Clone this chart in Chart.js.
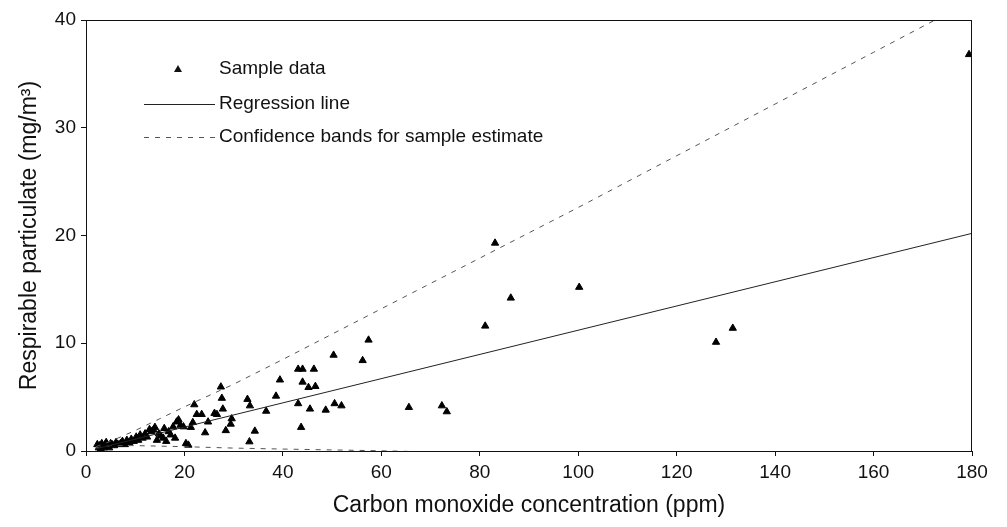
<!DOCTYPE html>
<html>
<head>
<meta charset="utf-8">
<title>Respirable particulate vs carbon monoxide</title>
<script src="https://cdn.jsdelivr.net/npm/chart.js@4.4.1/dist/chart.umd.min.js"></script>
<style>
  html, body { margin: 0; padding: 0; background: #fff; }
  #wrap { position: relative; width: 1007px; height: 527px; }
</style>
</head>
<body>
<div id="wrap"><canvas id="chart"></canvas></div>
<script>
// sample data (CO ppm, particulate mg/m3)
const sampleX = [
  2.3, 2.6, 2.8, 3.0, 3.2, 3.4, 3.6, 3.9, 4.1, 4.4, 4.7, 5.0, 5.3, 5.7, 6.1, 6.5,
  7.0, 7.4, 7.9, 8.3, 8.8, 9.2, 9.7, 10.2, 10.6, 11.0, 11.5, 12.0, 12.4, 12.9,
  13.3, 13.7, 14.0, 14.4, 14.8, 15.2, 15.7, 15.9, 16.3, 16.8, 17.2, 17.7, 18.1,
  18.4, 18.8, 19.2, 19.8, 20.3, 20.8, 21.3, 21.7, 22.0, 22.5, 23.5, 24.2, 24.8,
  26.1, 26.6, 27.4, 27.6, 27.8, 28.4, 29.4, 29.6, 32.8, 33.3, 33.2, 34.3, 36.6,
  38.6, 39.4, 43.1, 43.1, 43.7, 44.0, 44.0, 45.2, 45.5, 46.3, 46.6, 48.7, 50.3,
  50.5, 51.9, 56.2, 57.4, 65.6, 72.3, 73.3, 81.1, 83.1, 86.3, 100.2, 128.0,
  131.4, 179.4
];
const sampleY = [
  0.6, 0.3, 0.5, 0.2, 0.7, 0.4, 0.3, 0.6, 0.8, 0.5, 0.3, 0.7, 0.6, 0.5, 0.8, 0.6,
  0.7, 0.9, 0.6, 1.0, 0.8, 1.1, 0.9, 1.3, 1.0, 1.5, 1.2, 1.6, 1.3, 2.0,
  1.8, 1.95, 2.2, 1.0, 1.6, 1.4, 1.2, 2.1, 0.9, 1.8, 1.5, 2.25, 1.2,
  2.7, 2.9, 2.4, 2.25, 0.7, 0.55, 2.2, 2.65, 4.3, 3.4, 3.4, 1.7, 2.7,
  3.5, 3.4, 5.95, 4.9, 3.9, 1.9, 2.5, 3.0, 4.8, 4.2, 0.86, 1.85, 3.7,
  5.1, 6.6, 7.6, 4.4, 2.2, 7.6, 6.4, 5.9, 3.9, 7.6, 6.0, 3.8, 8.9,
  4.4, 4.2, 8.4, 10.3, 4.05, 4.2, 3.65, 11.6, 19.3, 14.2, 15.2, 10.1,
  11.4, 36.8
];

// regression line end points
const regressionX = [2, 180];
const regressionY = [0.2, 20.2];

// confidence bands for sample estimate
const bandX = [2, 5, 10, 15, 20, 30, 40, 60, 80, 100, 120, 140, 160, 180];
const upperBandY = [0.4, 0.9, 1.9, 3.0, 4.1, 6.2, 8.5, 13.2, 17.9, 22.6, 27.4, 32.2, 37.0, 41.8];
const lowerBandY = [0.3, 0.5, 0.5, 0.45, 0.4, 0.27, 0.18, 0.02, -0.2, -0.4, -0.6, -0.8, -1.0, -1.2];

const xTicks = [0, 20, 40, 60, 80, 100, 120, 140, 160, 180];
const yTicks = [0, 10, 20, 30, 40];

const legendItems = ["Sample data", "Regression line", "Confidence bands for sample estimate"];

const fontFamily = "'Liberation Sans', Arial, Helvetica, sans-serif";

function toPoints(xs, ys) {
  return xs.map((x, i) => ({ x, y: ys[i] }));
}

// box round the plot area
const frame = {
  id: "frame",
  afterDatasetsDraw(chart) {
    const { ctx, chartArea } = chart;
    ctx.save();
    ctx.strokeStyle = "#111";
    ctx.lineWidth = 1;
    ctx.strokeRect(chartArea.left + 0.5, chartArea.top + 0.5,
      chartArea.right - chartArea.left - 1, chartArea.bottom - chartArea.top);
    ctx.restore();
  },
};

// legend inside the plot, top left
const insideLegend = {
  id: "insideLegend",
  afterDraw(chart) {
    const { ctx, chartArea } = chart;
    const x0 = chartArea.left + 58;
    const textX = chartArea.left + 133;
    const rows = [chartArea.top + 49, chartArea.top + 84, chartArea.top + 117];
    ctx.save();
    ctx.font = "19px " + fontFamily;
    ctx.fillStyle = "#111";
    ctx.textBaseline = "middle";

    ctx.beginPath();
    ctx.moveTo(x0 + 34, rows[0] - 4);
    ctx.lineTo(x0 + 38, rows[0] + 3);
    ctx.lineTo(x0 + 30, rows[0] + 3);
    ctx.closePath();
    ctx.fill();

    ctx.strokeStyle = "#222";
    ctx.lineWidth = 1;
    ctx.beginPath();
    ctx.moveTo(x0, rows[1] + 0.5);
    ctx.lineTo(x0 + 71, rows[1] + 0.5);
    ctx.stroke();

    ctx.strokeStyle = "#555";
    ctx.setLineDash([5, 6]);
    ctx.beginPath();
    ctx.moveTo(x0, rows[2] + 0.5);
    ctx.lineTo(x0 + 71, rows[2] + 0.5);
    ctx.stroke();
    ctx.setLineDash([]);

    legendItems.forEach((label, i) => {
      ctx.fillText(label, textX, rows[i]);
    });
    ctx.restore();
  },
};

new Chart(document.getElementById("chart"), {
  type: "scatter",
  data: {
    datasets: [
      {
        label: legendItems[1],
        data: toPoints(regressionX, regressionY),
        showLine: true,
        borderColor: "#222",
        borderWidth: 1,
        pointRadius: 0,
      },
      {
        label: legendItems[2],
        data: toPoints(bandX, upperBandY),
        showLine: true,
        borderColor: "#555",
        borderWidth: 1,
        borderDash: [5, 6],
        pointRadius: 0,
      },
      {
        label: "lower band",
        data: toPoints(bandX, lowerBandY),
        showLine: true,
        borderColor: "#555",
        borderWidth: 1,
        borderDash: [5, 6],
        pointRadius: 0,
      },
      {
        label: legendItems[0],
        data: toPoints(sampleX, sampleY),
        pointStyle: "triangle",
        pointRadius: 4.2,
        borderWidth: 1,
        backgroundColor: "#000",
        borderColor: "#000",
      },
    ],
  },
  options: {
    responsive: true,
    maintainAspectRatio: false,
    animation: false,
    layout: {
      padding: { left: 0, top: 20, right: 35, bottom: 0 },
    },
    plugins: {
      legend: { display: false },
      tooltip: { enabled: false },
    },
    scales: {
      x: {
        type: "linear",
        min: 0,
        max: 180,
        afterBuildTicks: (scale) => {
          scale.ticks = xTicks.map((v) => ({ value: v }));
        },
        afterFit: (scale) => {
          scale.height = 76;
        },
        grid: {
          drawOnChartArea: false,
          drawTicks: true,
          tickLength: 5,
          color: "#111",
        },
        border: { color: "#111", width: 1 },
        ticks: {
          color: "#111",
          padding: 5,
          maxRotation: 0,
          font: { family: fontFamily, size: 19 },
        },
        title: {
          display: true,
          text: "Carbon monoxide concentration (ppm)",
          color: "#111",
          padding: { top: 0, bottom: 8 },
          font: { family: fontFamily, size: 23 },
        },
      },
      y: {
        type: "linear",
        min: 0,
        max: 40,
        afterBuildTicks: (scale) => {
          scale.ticks = yTicks.map((v) => ({ value: v }));
        },
        afterFit: (scale) => {
          scale.width = 86;
        },
        grid: {
          drawOnChartArea: false,
          drawTicks: true,
          tickLength: 5,
          color: "#111",
        },
        border: { color: "#111", width: 1 },
        ticks: {
          color: "#111",
          padding: 5,
          font: { family: fontFamily, size: 19 },
        },
        title: {
          display: true,
          text: "Respirable particulate (mg/m³)",
          color: "#111",
          padding: { top: 16, bottom: 0 },
          font: { family: fontFamily, size: 23 },
        },
      },
    },
  },
  plugins: [frame, insideLegend],
});
</script>
</body>
</html>
